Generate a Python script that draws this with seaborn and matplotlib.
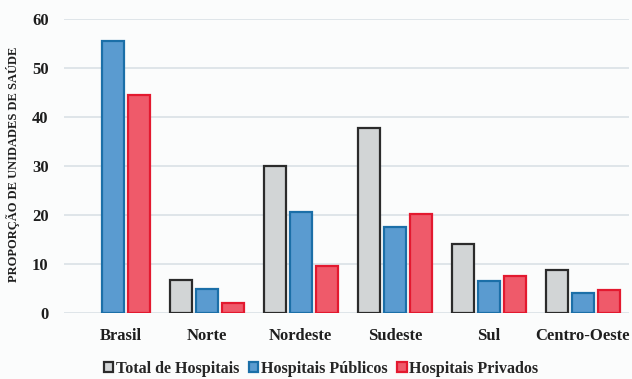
import numpy as np
import pandas as pd
import matplotlib
matplotlib.use("Agg")
import matplotlib.pyplot as plt
import seaborn as sns

# Regions and hospital shares (%)
regioes = ["Brasil", "Norte", "Nordeste", "Sudeste", "Sul", "Centro-Oeste"]
series = ["Total de Hospitais", "Hospitais Públicos", "Hospitais Privados"]
total = [np.nan, 6.8, 30.1, 37.7, 14.1, 8.7]
publicos = [55.5, 4.9, 20.6, 17.5, 6.6, 4.0]
privados = [44.5, 2.0, 9.6, 20.2, 7.5, 4.7]
yticks = [0, 10, 20, 30, 40, 50, 60]

fills = ["#d2d5d6", "#5a9bd0", "#ef5a6a"]
edges = ["#2b2b2b", "#1b6fa8", "#e3192f"]

df = pd.DataFrame({
    "regiao": np.repeat(regioes, 3),
    "serie": series * len(regioes),
    "valor": np.ravel(np.column_stack([total, publicos, privados])),
})

sns.set_theme(style="white")
plt.rcParams["font.family"] = ["Liberation Serif", "DejaVu Serif"]
plt.rcParams["font.weight"] = "bold"

fig = plt.figure(figsize=(6.32, 3.79), dpi=100, facecolor="#fbfcfc")
ax = fig.add_axes([0.101, 0.174, 0.894, 0.776])
ax.set_facecolor("#fbfcfc")

sns.barplot(data=df, x="regiao", y="valor", hue="serie", order=regioes,
            hue_order=series, palette=fills, saturation=1, width=0.83,
            gap=0.14, edgecolor="none", ax=ax, legend=True)

# colour the outlines per series
for cont, ec in zip(ax.containers, edges):
    for p in cont.patches:
        p.set_edgecolor(ec)
        p.set_linewidth(1.6)

ax.set_ylim(0, 60)
ax.set_xlim(-0.52, 5.49)
ax.set_yticks(yticks)
ax.set_yticklabels([str(v) for v in yticks])
ax.yaxis.grid(True, color="#dde3e7", linewidth=1.3)
ax.set_axisbelow(True)
for s in ax.spines.values():
    s.set_visible(False)

ax.set_xticks([0.09, 1, 2, 3, 4, 5])
ax.set_xticklabels(regioes)
ax.tick_params(axis="x", length=0, pad=11, labelsize=12, colors="#1e1e1e")
ax.tick_params(axis="y", length=0, pad=11, labelsize=12, colors="#1e1e1e")
for t in ax.get_xticklabels() + ax.get_yticklabels():
    t.set_fontweight("bold")

ax.set_xlabel("")
ax.set_ylabel("PROPORÇÃO DE UNIDADES DE SAÚDE", fontsize=9, fontweight="bold",
              color="#1e1e1e")
ax.yaxis.set_label_coords(-0.077, 0.505)

handles, labels = ax.get_legend_handles_labels()
for h, ec in zip(handles, edges):
    h.set_edgecolor(ec)
    h.set_linewidth(1.6)
ax.legend(handles, labels, loc="upper center", bbox_to_anchor=(0.455, -0.14),
          ncol=3, frameon=False, handlelength=0.6, handleheight=0.6,
          handletextpad=0.15, columnspacing=0.6, borderaxespad=0.2,
          borderpad=0.2,
          prop={"family": ["Liberation Serif"], "weight": "bold", "size": 11.6})

fig.savefig("out.png", dpi=100, facecolor=fig.get_facecolor())
